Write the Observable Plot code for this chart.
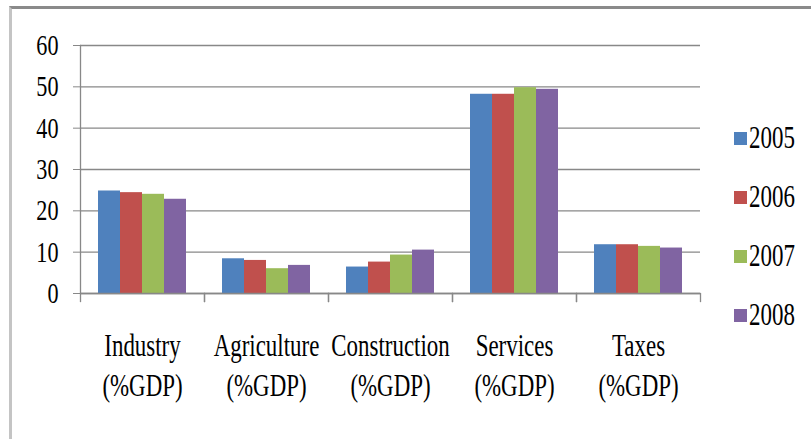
<!DOCTYPE html>
<html><head><meta charset="utf-8">
<script src="https://cdn.jsdelivr.net/npm/d3@7"></script>
<script src="https://cdn.jsdelivr.net/npm/@observablehq/plot@0.6"></script>
<style>
body{margin:0;background:#fff;}
#wrap{position:relative;width:811px;height:439px;overflow:hidden;background:#fff;}
#border{position:absolute;left:9px;top:6px;width:900px;height:500px;border-top:3px solid #8a8a8a;border-left:3px solid #c4c4c4;}
#chart{position:absolute;left:0;top:0;}
#legend{position:absolute;left:734px;top:0;font-family:"Liberation Serif","Times New Roman",Times,serif;}
.item{position:absolute;left:0;width:80px;height:30px;display:flex;align-items:center;}
.sw{width:13px;height:13px;margin-right:2px;flex:none;}
.lab{font-size:31px;line-height:30px;transform:scaleX(0.74);transform-origin:left center;color:#000;white-space:nowrap;}
</style>
</head><body>
<div id="wrap"><div id="border"></div><div id="chart"></div><div id="legend"></div></div>
<script>
const categories = ["Industry", "Agriculture", "Construction", "Services", "Taxes"];
const labelSuffix = "(%GDP)";
const years = ["2005", "2006", "2007", "2008"];
const v2005 = [24.8, 8.4, 6.4, 48.2, 11.8];
const v2006 = [24.4, 8.0, 7.6, 48.2, 11.8];
const v2007 = [24.0, 6.0, 9.3, 49.8, 11.4];
const v2008 = [22.8, 6.8, 10.5, 49.4, 11.0];
const yTicks = [0, 10, 20, 30, 40, 50, 60];
const colors = ["#4F81BD", "#C0504D", "#9BBB59", "#8064A2"];

const series = [v2005, v2006, v2007, v2008];
const data = categories.flatMap((c, i) => years.map((y, j) => ({category: c, year: y, value: series[j][i]})));

function build(withAxisLine) {
  const marks = [
    Plot.gridY(yTicks, {stroke: "#888", strokeOpacity: 1, strokeWidth: 1.3}),
    Plot.axisY(yTicks, {tickSize: 7, tickPadding: 15, stroke: "#888", strokeOpacity: 1, fill: "#000", fontSize: 30, label: null}),
    Plot.axisFx({anchor: "bottom", tickSize: 0, tickPadding: 34, fontSize: 31, lineHeight: 1.3, fill: "#000", label: null, tickFormat: d => d + "\n" + labelSuffix}),
    Plot.frame({anchor: "left", insetTop: 248, insetBottom: -8, stroke: "#888", strokeWidth: 1.3}),
    Plot.frame({anchor: "right", insetTop: 248, insetBottom: -8, stroke: "#888", strokeWidth: 1.3})
  ];
  if (withAxisLine) marks.push(Plot.frame({anchor: "left", fx: () => categories[0], stroke: "#888", strokeWidth: 1.3}));
  marks.push(
    Plot.barY(data, {fx: "category", x: "year", y: "value", fill: "year"}),
    Plot.ruleY([0], {stroke: "#888", strokeWidth: 1.3})
  );
  return Plot.plot({
    width: 811, height: 439,
    marginLeft: 79, marginRight: 110, marginTop: 45, marginBottom: 146,
    style: {fontFamily: '"Liberation Serif", "Times New Roman", Times, serif', background: "transparent", overflow: "visible"},
    fx: {domain: categories, padding: 0, label: null},
    x: {domain: years, paddingInner: 0, paddingOuter: 0.78, axis: null},
    y: {domain: [0, 60], label: null},
    color: {domain: years, range: colors},
    marks
  });
}
let svg;
try { svg = build(true); } catch (e) { console.error(e); svg = build(false); }
// horizontally condensed lettering, as in the reference
svg.querySelectorAll("text").forEach(t => {
  const tr = t.getAttribute("transform") || "";
  t.setAttribute("transform", `${tr} scale(0.74,1)`);
});
document.getElementById("chart").appendChild(svg);

const legend = document.getElementById("legend");
years.forEach((y, i) => {
  const item = document.createElement("div");
  item.className = "item";
  item.style.top = (123 + i * 59) + "px";
  const sw = document.createElement("div");
  sw.className = "sw"; sw.style.background = colors[i];
  const lab = document.createElement("div");
  lab.className = "lab"; lab.textContent = y;
  item.appendChild(sw); item.appendChild(lab);
  legend.appendChild(item);
});
</script>
</body></html>
